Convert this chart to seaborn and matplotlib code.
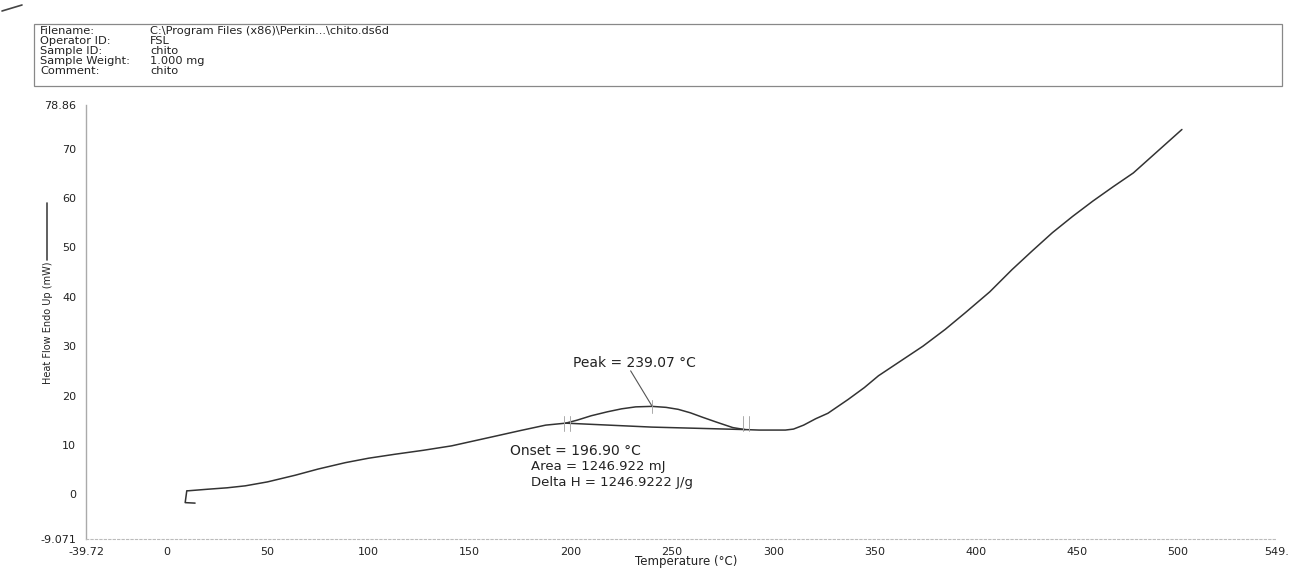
import matplotlib
matplotlib.use("Agg")
import matplotlib.pyplot as plt
import seaborn as sns
import pandas as pd
from matplotlib.lines import Line2D
from matplotlib.patches import Rectangle

sns.set_style("white")
plt.rcParams['font.family'] = ['DejaVu Sans']

# ---- data ----
temp_c = [14.2, 9.3, 10.1, 10.9, 20, 30, 39, 50, 63.7, 75, 88.5, 100, 113, 127, 141,
          152, 163, 175, 187.5, 197.4, 203, 210, 218, 225, 232, 240, 247, 253, 259,
          265, 272, 280, 286, 293, 300, 306, 310, 315, 321, 327, 337, 345, 352, 363,
          374, 385, 395, 407, 418, 428, 438, 448, 458, 468, 478, 490, 502]
heat_flow = [-1.8, -1.7, 0.7, 0.7, 1.0, 1.3, 1.7, 2.5, 3.85, 5.1, 6.4, 7.3, 8.1, 8.9, 9.8,
             10.8, 11.8, 12.9, 14.0, 14.4, 15.0, 15.9, 16.7, 17.3, 17.7, 17.8, 17.6, 17.2, 16.5,
             15.6, 14.6, 13.5, 13.1, 13.0, 13.0, 13.0, 13.2, 14.0, 15.3, 16.4, 19.2, 21.6, 24.0, 27.0,
             30.0, 33.4, 36.8, 41.0, 45.5, 49.3, 53.0, 56.3, 59.4, 62.3, 65.1, 69.5, 73.9]
baseline_t = [197.4, 240, 286]
baseline_hf = [14.4, 13.6, 13.1]

x_ticks = [-39.72, 0, 50, 100, 150, 200, 250, 300, 350, 400, 450, 500, 549]
x_tick_labels = ["-39.72", "0", "50", "100", "150", "200", "250", "300", "350",
                 "400", "450", "500", "549."]
y_ticks = [-9.071, 0, 10, 20, 30, 40, 50, 60, 70, 78.86]
y_tick_labels = ["-9.071", "0", "10", "20", "30", "40", "50", "60", "70", "78.86"]

header_keys = ["Filename:", "Operator ID:", "Sample ID:", "Sample Weight:", "Comment:"]
header_vals = ["C:\\Program Files (x86)\\Perkin...\\chito.ds6d", "FSL", "chito",
               "1.000 mg", "chito"]

peak_label = "Peak = 239.07 °C"
onset_label = "Onset = 196.90 °C"
area_label = "Area = 1246.922 mJ"
delta_label = "Delta H = 1246.9222 J/g"

W, H = 1294, 569
fig = plt.figure(figsize=(W / 100, H / 100), dpi=100)
ax = fig.add_axes([86 / W, 1 - 539 / H, (1277 - 86) / W, (539 - 105) / H])

df = pd.DataFrame({"t": temp_c, "hf": heat_flow})
sns.lineplot(data=df, x="t", y="hf", sort=False, ax=ax, color="#333333", lw=1.1,
             estimator=None)
bdf = pd.DataFrame({"t": baseline_t, "hf": baseline_hf})
sns.lineplot(data=bdf, x="t", y="hf", sort=False, ax=ax, color="#333333", lw=1.1,
             estimator=None)

# onset / end tick marks
for xm in (196.5, 199.5, 285, 288):
    ax.plot([xm, xm], [12.8, 15.8], color="#aaaaaa", lw=0.7)
ax.plot([240, 240], [16.5, 19], color="#aaaaaa", lw=0.7)
# peak leader
ax.plot([229.5, 240], [25.0, 17.9], color="#555555", lw=0.8)

ax.set_xlim(-39.72, 549)
ax.set_ylim(-9.071, 78.86)
ax.set_xticks(x_ticks)
ax.set_xticklabels(x_tick_labels)
ax.set_yticks(y_ticks)
ax.set_yticklabels(y_tick_labels)
ax.tick_params(axis="both", length=0, labelsize=8, colors="#222222")
ax.tick_params(axis="y", pad=7)
ax.tick_params(axis="x", pad=6)
ax.set_xlabel("")
ax.set_ylabel("")
for s in ("top", "right"):
    ax.spines[s].set_visible(False)
ax.spines["left"].set_color("#aaaaaa")
ax.spines["left"].set_linewidth(1.0)
ax.spines["bottom"].set_color("#bbbbbb")
ax.spines["bottom"].set_linestyle((0, (2, 2)))
ax.spines["bottom"].set_linewidth(0.8)

ax.text(231.4, 26.5, peak_label, ha="center", va="center", fontsize=10, color="#222222")
ax.text(170, 8.8, onset_label, ha="left", va="center", fontsize=10, color="#222222")
ax.text(180, 5.7, area_label, ha="left", va="center", fontsize=9.5, color="#222222")
ax.text(180, 2.4, delta_label, ha="left", va="center", fontsize=9.5, color="#222222")

# axis titles
fig.text(686 / W, 1 - 562 / H, "Temperature (°C)", ha="center", va="center",
         fontsize=8.5, color="#222222")
fig.text(48 / W, 1 - 323 / H, "Heat Flow Endo Up (mW)", ha="center", va="center",
         rotation=90, fontsize=7, color="#222222")
fig.add_artist(Line2D([47 / W, 47 / W], [1 - 260 / H, 1 - 203 / H], color="#444444",
                      lw=1.2, transform=fig.transFigure))

# header box
fig.add_artist(Rectangle((34 / W, 1 - 86 / H), (1282 - 34) / W, (86 - 24) / H,
                         transform=fig.transFigure, fill=False, edgecolor="#888888",
                         lw=0.9))
rows_y = [31.5, 41.5, 51.0, 61.0, 71.0]
for k, v, yy in zip(header_keys, header_vals, rows_y):
    fig.text(40 / W, 1 - yy / H, k, ha="left", va="center", fontsize=8.2, color="#222222")
    fig.text(150 / W, 1 - yy / H, v, ha="left", va="center", fontsize=8.2, color="#222222")

fig.add_artist(Line2D([2 / W, 22 / W], [1 - 11 / H, 1 - 5 / H], color="#444444",
                      lw=1.2, transform=fig.transFigure))

fig.savefig("out.png", dpi=100, facecolor="white")
